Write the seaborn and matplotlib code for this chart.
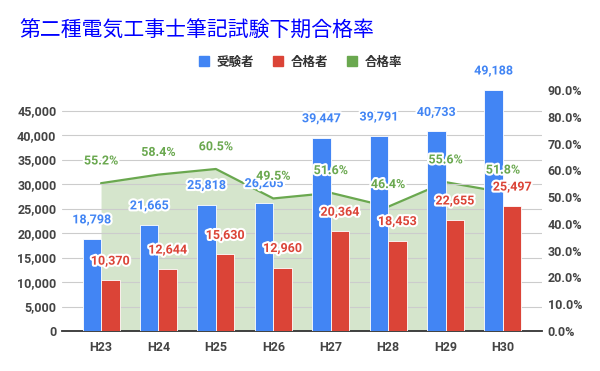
import numpy as np
import pandas as pd
import matplotlib
matplotlib.use("Agg")
import matplotlib.pyplot as plt
import matplotlib.patheffects as pe
from matplotlib.lines import Line2D
import seaborn as sns

# ---- data ----
years = ["H23", "H24", "H25", "H26", "H27", "H28", "H29", "H30"]
examinees = [18798, 21665, 25818, 26205, 39447, 39791, 40733, 49188]
passers = [10370, 12644, 15630, 12960, 20364, 18453, 22655, 25497]
pass_rate = [55.2, 58.4, 60.5, 49.5, 51.6, 46.4, 55.6, 51.8]
series_names = ["受験者", "合格者", "合格率"]
title = "第二種電気工事士筆記試験下期合格率"
left_ticks = list(range(0, 45001, 5000))
right_ticks = [0, 10, 20, 30, 40, 50, 60, 70, 80, 90]

BLUE = "#4285f4"
RED = "#db4437"
GREEN = "#6aa84f"
AREA = "#d5e5cc"
TXT = "#444444"

sns.set_theme(style="white")
plt.rcParams["font.family"] = ["Roboto", "Noto Sans CJK JP", "DejaVu Sans"]

df = pd.DataFrame({
    "year": years * 2,
    "series": [series_names[0]] * len(years) + [series_names[1]] * len(years),
    "value": examinees + passers,
})
pos = np.arange(len(years))

fig = plt.figure(figsize=(6, 3.71), dpi=100)
ax = fig.add_axes([62 / 600, 1 - 331 / 371, 480 / 600, 241 / 371])
ax2 = ax.twinx()
ax.set_zorder(2)
ax2.set_zorder(1)
ax.patch.set_visible(False)

# area + line on the right axis (behind bars)
ax2.fill_between(pos, pass_rate, 0, color=AREA, lw=0, zorder=1)
sns.lineplot(x=pos, y=pass_rate, ax=ax2, color=GREEN, lw=1.6, zorder=2)
ax2.set_ylim(0, 90)
ax2.set_yticks(right_ticks)
ax2.set_yticklabels([f"{t:.1f}%" for t in right_ticks])
for s in ax2.spines.values():
    s.set_visible(False)
ax2.tick_params(axis="y", length=0, pad=4, labelsize=9, labelcolor=TXT)
for t in ax2.get_yticklabels():
    t.set_fontweight("bold")
ax2.grid(False)
ax2.set_ylabel("")

# bars on the left axis
sns.barplot(data=df, x="year", y="value", hue="series", ax=ax,
            palette={series_names[0]: BLUE, series_names[1]: RED},
            width=0.645, edgecolor="white", linewidth=0.6, legend=False,
            saturation=1, zorder=3)
ax.set_ylim(0, max(examinees))
ax.set_yticks(left_ticks)
ax.set_yticklabels([f"{t:,}" for t in left_ticks])
ax.yaxis.grid(True, color="#cccccc", lw=0.8)
ax.xaxis.grid(False)
ax.set_axisbelow(True)
for k, s in ax.spines.items():
    s.set_visible(k == "bottom")
ax.spines["bottom"].set_color("#333333")
ax.spines["bottom"].set_linewidth(1.3)
ax.tick_params(axis="y", length=0, pad=4, labelsize=9, labelcolor=TXT)
ax.tick_params(axis="x", length=0, pad=7, labelsize=9, labelcolor=TXT)
for t in ax.get_yticklabels() + ax.get_xticklabels():
    t.set_fontweight("bold")
ax.set_xlabel("")
ax.set_ylabel("")

stroke = [pe.withStroke(linewidth=3, foreground="white")]
for cont, col, vals in zip(ax.containers, [BLUE, RED], [examinees, passers]):
    texts = ax.bar_label(cont, labels=[f"{v:,}" for v in vals], padding=9,
                         color=col, fontsize=9, fontweight="bold")
    for t in texts:
        t.set_path_effects(stroke)

# rate labels (drawn in front of bars)
for x, r in zip(pos, pass_rate):
    ax.annotate(f"{r:.1f}%", xy=(x, r), xycoords=ax2.transData,
                xytext=(0, 16), textcoords="offset points",
                ha="center", va="center", color=GREEN, fontsize=9,
                fontweight="bold", path_effects=stroke, zorder=6)

ax.set_xlim(-0.68, len(years) - 1 + 0.68)

# legend
handles = [Line2D([], [], marker="s", ls="", color=c, markersize=7.5)
           for c in [BLUE, RED, GREEN]]
fig.legend(handles, series_names, loc="center",
           bbox_to_anchor=(0.5, 1 - 62 / 371), ncol=3, frameon=False,
           prop={"family": "Noto Sans CJK JP", "weight": "bold", "size": 9},
           handletextpad=0.5, columnspacing=1.4, handlelength=1.0,
           labelcolor="#333333")

fig.text(19 / 600, 1 - 31 / 371, title, fontsize=15, color="#0000ff",
         va="center", ha="left", family=["Noto Sans CJK JP"])

fig.savefig("out.png", dpi=100)
